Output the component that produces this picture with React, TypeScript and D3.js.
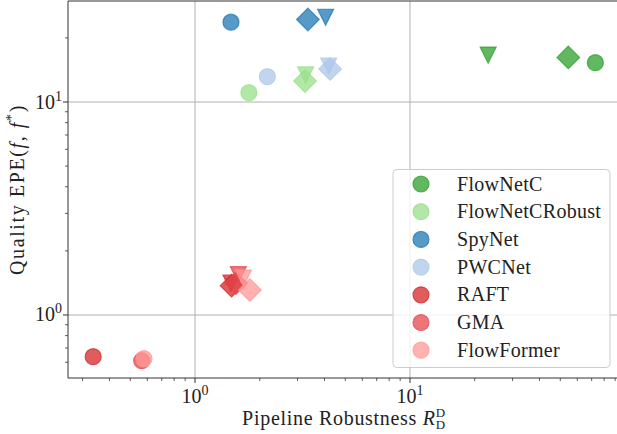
import React from 'react';
import * as d3 from 'd3';

// models and their colours
const models = ['FlowNetC', 'FlowNetCRobust', 'SpyNet', 'PWCNet', 'RAFT', 'GMA', 'FlowFormer'];
const colors = ['#2ca02c', '#98df8a', '#1f77b4', '#aec7e8', '#d62728', '#e4474c', '#ff9896'];

// one value per model, for each marker (o, D, v)
const circleX = [72.8, 1.78, 1.47, 2.17, 0.336, 0.565, 0.579];
const circleY = [15.3, 11.06, 23.7, 13.15, 0.637, 0.61, 0.624];
const diamondX = [54.5, 3.25, 3.35, 4.25, 1.48, 1.55, 1.8];
const diamondY = [16.2, 12.55, 24.4, 14.3, 1.373, 1.41, 1.31];
const triangleX = [23.1, 3.27, 4.05, 4.19, 1.47, 1.59, 1.68];
const triangleY = [16.6, 13.4, 25.0, 14.76, 1.41, 1.546, 1.49];

const xMajor = [1, 10];
const yMajor = [1, 10];
const xMinor = [0.3, 0.4, 0.5, 0.6, 0.7, 0.8, 0.9, 2, 3, 4, 5, 6, 7, 8, 9, 20, 30, 40, 50, 60, 70, 80, 90];
const yMinor = [0.6, 0.7, 0.8, 0.9, 2, 3, 4, 5, 6, 7, 8, 9, 20];

const W = 617;
const H = 434;
const left = 68, right = 620, top = 1, bottom = 378;
const font = "'Liberation Serif', 'Times New Roman', serif";
const alpha = 0.75;

const x = d3.scaleLog().domain([0.2566, 94.8]).range([left, right]);
const y = d3.scaleLog().domain([0.506, 29.8]).range([bottom, top]);

const S = 16; // marker size in px
const circlePath = (() => { const p = d3.path(); p.arc(0, 0, S / 2, 0, 2 * Math.PI); p.closePath(); return p.toString(); })();
const diamondPath = `M0,${-S * 0.707}L${S * 0.707},0L0,${S * 0.707}L${-S * 0.707},0Z`;
const trianglePath = `M0,${S / 2}L${-S / 2},${-S / 2}L${S / 2},${-S / 2}Z`;

const Marker = ({ d, cx, cy, color }: { d: string; cx: number; cy: number; color: string }) => (
  <path d={d} transform={`translate(${cx},${cy})`} fill={color} fillOpacity={alpha}
    stroke={color} strokeOpacity={alpha} strokeWidth={1.2} />
);

export default function App() {
  const legendRows = models.map((m, i) => 184 + i * 27.7);
  return (
    <svg width={W} height={H} style={{ position: 'absolute', left: 0, top: 0, background: '#fff' }}>
      <rect width={W} height={H} fill="#fff" />
      {/* grid */}
      {xMajor.map(v => <line key={'gx' + v} x1={x(v)} x2={x(v)} y1={top} y2={bottom} stroke="#b0b0b0" strokeWidth={1} />)}
      {yMajor.map(v => <line key={'gy' + v} x1={left} x2={right} y1={y(v)} y2={y(v)} stroke="#b0b0b0" strokeWidth={1} />)}

      {/* points */}
      {models.map((m, i) => (
        <g key={m}>
          <Marker d={circlePath} cx={x(circleX[i])} cy={y(circleY[i])} color={colors[i]} />
          <Marker d={diamondPath} cx={x(diamondX[i])} cy={y(diamondY[i])} color={colors[i]} />
          <Marker d={trianglePath} cx={x(triangleX[i])} cy={y(triangleY[i])} color={colors[i]} />
        </g>
      ))}

      {/* spines */}
      <line x1={left} x2={right} y1={top} y2={top} stroke="#333" strokeWidth={1} />
      <line x1={left} x2={right} y1={bottom} y2={bottom} stroke="#333" strokeWidth={1} />
      <line x1={left} x2={left} y1={top} y2={bottom} stroke="#333" strokeWidth={1} />

      {/* ticks */}
      {xMajor.map(v => <line key={'tx' + v} x1={x(v)} x2={x(v)} y1={bottom} y2={bottom + 5} stroke="#333" />)}
      {xMinor.map(v => <line key={'mx' + v} x1={x(v)} x2={x(v)} y1={bottom} y2={bottom + 3} stroke="#333" strokeWidth={0.8} />)}
      {yMajor.map(v => <line key={'ty' + v} x1={left - 5} x2={left} y1={y(v)} y2={y(v)} stroke="#333" />)}
      {yMinor.map(v => <line key={'my' + v} x1={left - 3} x2={left} y1={y(v)} y2={y(v)} stroke="#333" strokeWidth={0.8} />)}

      {/* tick labels */}
      {xMajor.map(v => (
        <text key={'lx' + v} x={x(v)} y={403} textAnchor="middle" fontFamily={font} fontSize={20} fill="#222">
          10<tspan dy={-8} fontSize={14}>{Math.round(Math.log10(v))}</tspan>
        </text>
      ))}
      {yMajor.map(v => (
        <text key={'ly' + v} x={62} y={y(v) + 6.5} textAnchor="end" fontFamily={font} fontSize={20} fill="#222">
          10<tspan dy={-8} fontSize={14}>{Math.round(Math.log10(v))}</tspan>
        </text>
      ))}

      {/* axis labels */}
      <text x={(left + right) / 2} y={425} textAnchor="middle" fontFamily={font} fontSize={20} letterSpacing={0.7} fill="#222">
        Pipeline Robustness <tspan fontStyle="italic">R</tspan>
        <tspan fontSize={13} dy={-8}>D</tspan>
        <tspan fontSize={13} dx={-10} dy={12}>D</tspan>
      </text>
      <text transform={`translate(24,${(top + bottom) / 2}) rotate(-90)`} textAnchor="middle" fontFamily={font} fontSize={20} letterSpacing={1.6} fill="#222">
        Quality EPE(<tspan fontStyle="italic">f</tspan>, <tspan fontStyle="italic">f</tspan>
        <tspan fontSize={14} dy={-8}>*</tspan><tspan dy={8}>)</tspan>
      </text>

      {/* legend */}
      <rect x={393} y={169.5} width={217} height={198} rx={4} fill="#fff" fillOpacity={0.8} stroke="#cccccc" strokeWidth={1} />
      {models.map((m, i) => (
        <g key={'leg' + m}>
          <Marker d={circlePath} cx={421} cy={legendRows[i]} color={colors[i]} />
          <text x={457} y={legendRows[i] + 6.5} fontFamily={font} fontSize={20} letterSpacing={0.3} fill="#222">{m}</text>
        </g>
      ))}
    </svg>
  );
}
